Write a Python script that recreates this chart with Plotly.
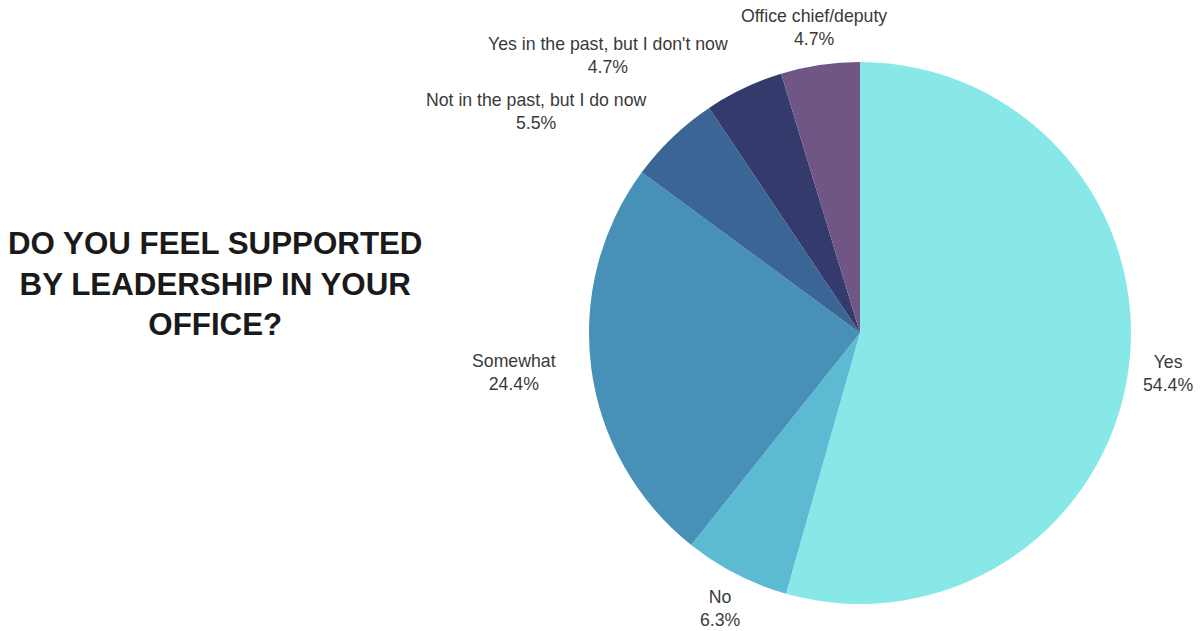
import plotly.graph_objects as go

# Survey answers, clockwise from 12 o'clock
labels = [
    "Yes",
    "No",
    "Somewhat",
    "Not in the past, but I do now",
    "Yes in the past, but I don't now",
    "Office chief/deputy",
]
percents = [54.4, 6.3, 24.4, 5.5, 4.7, 4.7]

slice_colors = ["#88E8E8", "#5CBAD2", "#4790B8", "#3B6595", "#343B6C", "#6F5684"]

# Label anchor points (paper coordinates) for each slice
label_x = [0.973, 0.600, 0.428, 0.447, 0.507, 0.678]
label_y = [0.408, 0.036, 0.409, 0.823, 0.912, 0.956]

W, H = 1200, 631
cx, cy, r = 860, 333, 271

fig = go.Figure(
    go.Pie(
        labels=labels,
        values=percents,
        sort=False,
        direction="clockwise",
        rotation=0,
        marker=dict(colors=slice_colors, line=dict(width=0)),
        textinfo="none",
        hoverinfo="label+percent",
        showlegend=False,
        domain=dict(
            x=[(cx - r) / W, (cx + r) / W],
            y=[1 - (cy + r) / H, 1 - (cy - r) / H],
        ),
    )
)

for lab, val, x, y in zip(labels, percents, label_x, label_y):
    fig.add_annotation(
        x=x, y=y, xref="paper", yref="paper",
        text=f"{lab}<br>{val:.1f}%",
        showarrow=False,
        xanchor="center", yanchor="middle",
        align="center",
        font=dict(family="Liberation Sans, Arial, sans-serif", size=17.7, color="#3a3a3a"),
    )

fig.add_annotation(
    x=215 / W, y=1 - 284 / H, xref="paper", yref="paper",
    text="<b>DO YOU FEEL SUPPORTED<br>BY LEADERSHIP IN YOUR<br>OFFICE?</b>",
    showarrow=False,
    xanchor="center", yanchor="middle",
    align="center",
    font=dict(family="Liberation Sans, Arial, sans-serif", size=31.3, color="#1a1a1a"),
)

fig.update_layout(
    width=W, height=H,
    margin=dict(l=0, r=0, t=0, b=0),
    paper_bgcolor="white",
    plot_bgcolor="white",
)

fig.write_html("out.html")
